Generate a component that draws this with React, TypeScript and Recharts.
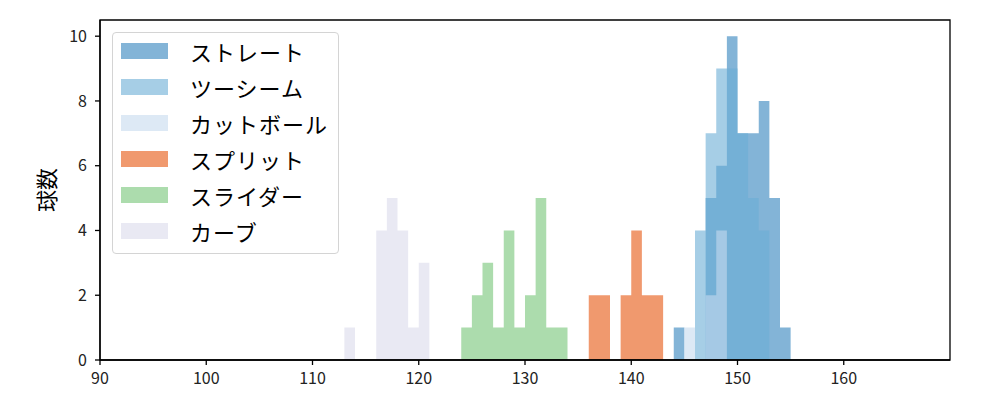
import React from "react";
import { ComposedChart, Area, XAxis, YAxis, Legend, ReferenceArea } from "recharts";

// 1球速ごとのビン (start = 最初のビンの左端)
const seriesNames = ["ストレート", "ツーシーム", "カットボール", "スプリット", "スライダー", "カーブ"];
const seriesColors = ["#3182bd", "#6baed6", "#c6dbef", "#e6550d", "#74c476", "#dadaeb"];
const binStarts = [144, 146, 145, 136, 124, 113];

const straightCounts = [1, 0, 0, 5, 6, 10, 7, 7, 8, 5, 1];
const twoSeamCounts = [4, 7, 9, 9, 7, 5, 4];
const cutterCounts = [1, 0, 2, 4];
const splitCounts = [2, 2, 0, 2, 4, 2, 2];
const sliderCounts = [1, 2, 3, 1, 4, 1, 2, 5, 1, 1];
const curveCounts = [1, 0, 0, 4, 5, 4, 1, 3];

const allCounts = [straightCounts, twoSeamCounts, cutterCounts, splitCounts, sliderCounts, curveCounts];

const xTicks = [90, 100, 110, 120, 130, 140, 150, 160];
const yTicks = [0, 2, 4, 6, 8, 10];

const FONT = "'Noto Sans CJK JP', 'Noto Sans', sans-serif";

// stepAfter 用のテーブル (90〜170 の整数)
const data: Record<string, number>[] = [];
for (let x = 90; x <= 170; x++) {
  const row: Record<string, number> = { x };
  allCounts.forEach((counts, i) => {
    const idx = x - binStarts[i];
    row["s" + i] = idx >= 0 && idx < counts.length ? counts[idx] : 0;
  });
  data.push(row);
}

function LegendBox() {
  return (
    <div
      style={{
        boxSizing: "border-box",
        width: 227,
        height: 222,
        border: "1px solid #d4d4d4",
        borderRadius: 4,
        background: "#fff",
        paddingTop: 0,
        paddingLeft: 8,
        fontFamily: FONT,
        fontSize: 22,
        color: "#000",
      }}
    >
      {seriesNames.map((name, i) => (
        <div key={name} style={{ display: "flex", alignItems: "center", height: 36 }}>
          <div
            style={{
              width: 47,
              height: 16,
              background: seriesColors[i],
              opacity: 0.6,
              marginRight: 22,
            }}
          />
          <span style={{ lineHeight: 1, letterSpacing: 1 }}>{name}</span>
        </div>
      ))}
    </div>
  );
}

export default function App() {
  const axisStyle = { fill: "#222", fontSize: 16, fontFamily: FONT };
  return (
    <div>
      <style>{"body{margin:0;background:#fff}"}</style>
      <ComposedChart width={1000} height={400} data={data} margin={{ top: 20, right: 50, bottom: 0, left: 0 }}>
        <XAxis
          dataKey="x"
          type="number"
          domain={[90, 170]}
          ticks={xTicks}
          allowDataOverflow
          stroke="#000"
          strokeWidth={1.3}
          tickSize={5}
          tickMargin={8}
          tick={axisStyle}
          fontSize={16}
          fontFamily={FONT}
          height={40}
        />
        <YAxis
          type="number"
          domain={[0, 10.5]}
          ticks={yTicks}
          allowDataOverflow
          stroke="#000"
          strokeWidth={1.3}
          tickSize={5}
          tickMargin={8}
          tick={axisStyle}
          fontSize={16}
          fontFamily={FONT}
          width={100}
          label={{
            value: "球数",
            angle: -90,
            position: "center",
            dx: -3,
            style: { fill: "#000", fontSize: 22, fontFamily: FONT },
          }}
        />
        {seriesNames.map((name, i) => (
          <Area
            key={name}
            dataKey={"s" + i}
            name={name}
            type="stepAfter"
            stroke="none"
            fill={seriesColors[i]}
            fillOpacity={0.6}
            isAnimationActive={false}
            dot={false}
            activeDot={false}
          />
        ))}
        {/* 上・右の枠線 */}
        <ReferenceArea x1={90} x2={170} y1={0} y2={10.5} fill="none" stroke="#000" strokeWidth={1.3} ifOverflow="visible" />
        <Legend
          layout="horizontal"
          verticalAlign="middle"
          align="center"
          content={() => <LegendBox />}
          wrapperStyle={{ left: 112, top: 32, width: 227, height: 222 }}
        />
      </ComposedChart>
    </div>
  );
}
